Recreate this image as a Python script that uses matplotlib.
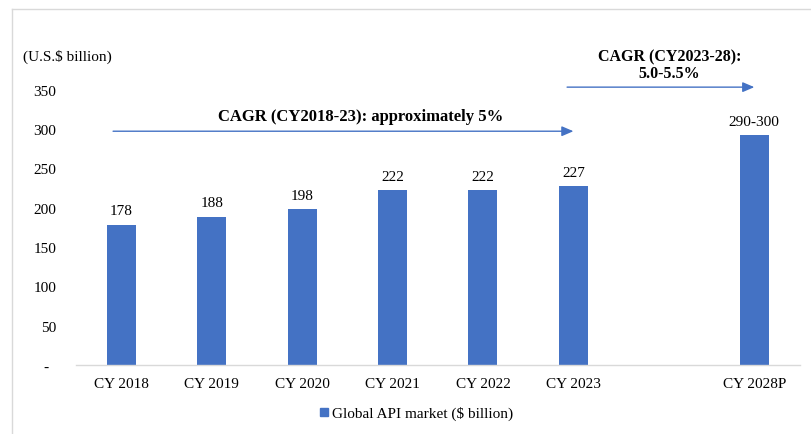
import matplotlib
matplotlib.use("Agg")
import matplotlib.pyplot as plt
from matplotlib.lines import Line2D
import numpy as np

plt.rcParams['font.family'] = ['Liberation Serif', 'DejaVu Serif']

categories = ["CY 2018", "CY 2019", "CY 2020", "CY 2021", "CY 2022", "CY 2023", "CY 2028P"]
values = [178, 188, 198, 222, 222, 227, 292]
value_labels = ["178", "188", "198", "222", "222", "227", "290-300"]
yticks = [0, 50, 100, 150, 200, 250, 300, 350]
ytick_labels = ["-  ", "50", "100", "150", "200", "250", "300", "350"]
series_name = "Global API market ($ billion)"
unit_label = "(U.S.$ billion)"
cagr1_text = "CAGR (CY2018-23): approximately 5%"
cagr2_text = "CAGR (CY2023-28):\n5.0-5.5%"

BLUE = "#4472C4"
W, H = 811, 435
fig = plt.figure(figsize=(W / 100, H / 100), dpi=100)

def fx(px):
    return px / W

def fy(py):
    return 1 - py / H

ax_left, ax_right, ax_bottom, ax_top = 76, 799.5, 366, 90.5
ax = fig.add_axes([fx(ax_left), fy(ax_bottom), fx(ax_right - ax_left), (ax_bottom - ax_top) / H])

n_hist = len(categories) - 1
xpos = list(range(n_hist)) + [n_hist + 1]

bars = ax.bar(xpos, values, width=0.32, color=BLUE, zorder=2)
for x, v, lab in zip(xpos, values, value_labels):
    ax.annotate(lab, (x, v), xytext=(0, 5.5), textcoords="offset points",
                ha="center", va="bottom", fontsize=11, color="#000000")

ax.set_xlim(-0.5, n_hist + 1.5)
ax.set_ylim(0, 350)
ax.set_xticks(xpos)
ax.set_xticklabels(categories, fontsize=11)
ax.set_yticks(yticks)
ax.set_yticklabels(ytick_labels, fontsize=11)
ax.tick_params(axis="both", length=0)
ax.tick_params(axis="y", pad=14)
ax.tick_params(axis="x", pad=9)
for s in ["top", "right", "left"]:
    ax.spines[s].set_visible(False)
ax.spines["bottom"].set_color("#D9D9D9")
ax.spines["bottom"].set_linewidth(1.0)

# unit label
fig.text(fx(23), fy(56.5), unit_label, ha="left", va="center", fontsize=11)

# CAGR arrows (data coordinates)
arrow_kw = dict(arrowstyle="-|>,head_length=0.7,head_width=0.3", color=BLUE, lw=1.0,
                shrinkA=0, shrinkB=0)
ax.annotate("", xy=(5.0, 297), xytext=(-0.09, 297), arrowprops=arrow_kw, annotation_clip=False)
ax.annotate("", xy=(7.0, 353), xytext=(4.93, 353), arrowprops=arrow_kw, annotation_clip=False)

ax.text(2.65, 316, cagr1_text, ha="center", va="center", fontsize=12, fontweight="bold",
        clip_on=False)
ax.text(6.06, 382, cagr2_text, ha="center", va="center", fontsize=11.5, fontweight="bold",
        linespacing=1.05, clip_on=False)

# legend
handle = Line2D([], [], marker="s", linestyle="none", markersize=6,
                markerfacecolor=BLUE, markeredgecolor=BLUE)
fig.legend([handle], [series_name], loc="center", bbox_to_anchor=(fx(416), fy(414)),
           frameon=False, fontsize=11, handlelength=0.6, handletextpad=0.2,
           borderpad=0, borderaxespad=0)

# outer frame lines (top and left)
fig.add_artist(Line2D([fx(12), 1.0], [fy(10), fy(10)], color="#D9D9D9", lw=1.0))
fig.add_artist(Line2D([fx(12), fx(12)], [0.0, fy(10)], color="#D9D9D9", lw=1.0))

fig.savefig("out.png", dpi=100)
